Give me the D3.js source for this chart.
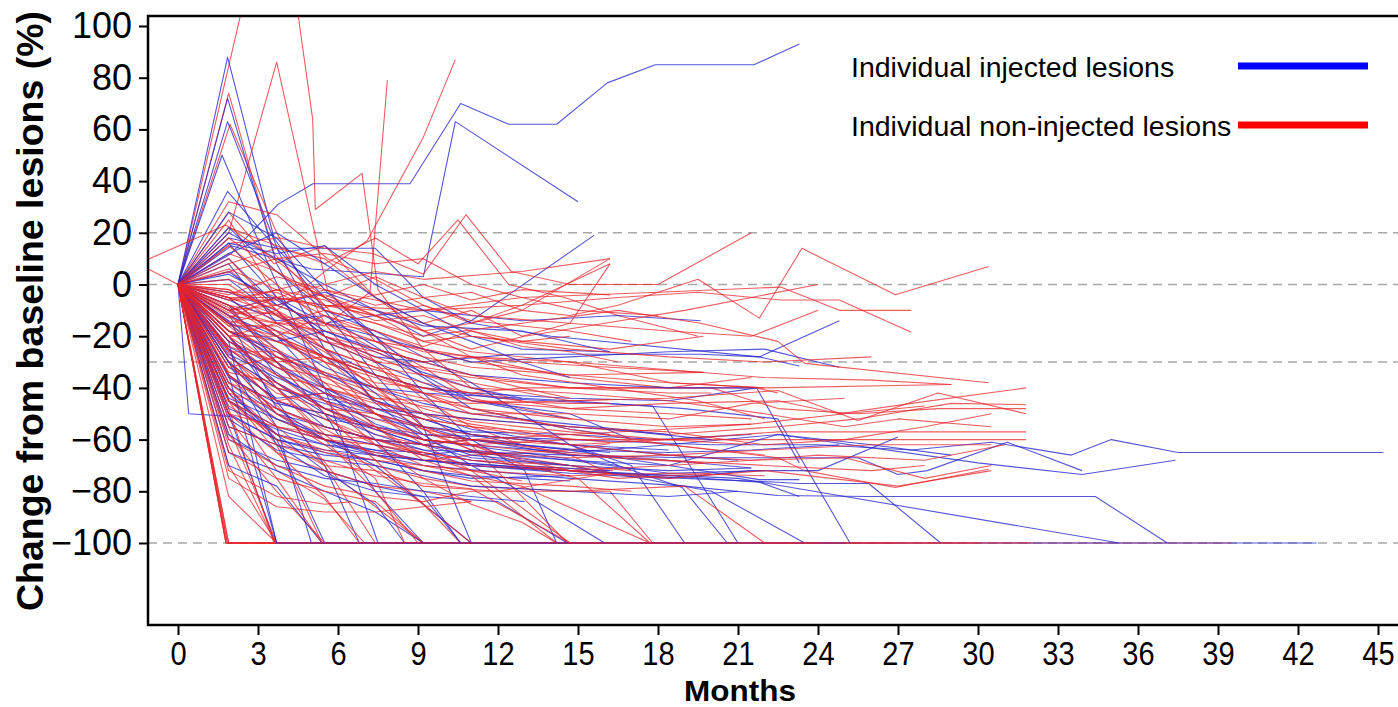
<!DOCTYPE html>
<html><head><meta charset="utf-8">
<script src="https://cdn.jsdelivr.net/npm/d3@7"></script>
<style>body{margin:0;background:#fff;} svg{display:block;}</style>
</head><body><svg id="c" width="1398" height="707"></svg>
<script>
// Each lesion: flat list of month, % change pairs
const injected = [
[0,0, 2,12, 3.75,31, 5.06,39, 8.7,39, 10.6,70, 12.4,62, 14.2,62, 16.1,78, 17.9,85, 21.6,85, 23.3,93],
[0,0, 2,15, 5,6, 9.2,3, 10.4,63, 15,32],
[0,0, 1.86,88, 3.6,18, 5.5,-10, 7.4,-35, 9.2,-55, 11,-100],
[0,0, 1.86,72, 3.7,8, 5.5,-25, 7.4,-45, 9.2,-52, 11,-58, 14.7,-62, 18.4,-64],
[0,0, 1.86,63, 3.8,12, 5.5,-20, 7.3,-45, 9.2,-60, 12.9,-65, 16.5,-70],
[0,0, 1.65,50, 3.5,5, 5.5,-40, 7.5,-100, 14,-100],
[0,0, 1.86,36, 3.6,15, 5.5,-5, 7.4,-20, 9.2,-35, 11,-45, 14.7,-52],
[0,0, 1.9,20, 3.7,10, 5.5,0, 7.4,-10, 9.2,-20, 11,-14, 15.6,19],
[0,0, 1.9,18, 3.7,14, 5.5,14, 7.4,14, 9.2,-5, 11,-15, 14,-20, 21.8,-28, 24.8,-14],
[0,0, 1.9,16, 3.7,-5, 5.5,-20, 7.4,-28, 9.2,-30, 12.6,-27, 19.6,-27, 21.8,-28, 23.3,-31.5],
[0,0, 1.9,10, 3.7,-8, 5.5,-15, 7.4,-12, 9.2,-10, 12.9,-14, 16.5,-12, 19.6,-14],
[0,0, 1.9,8, 3.7,-15, 5.5,-25, 7.4,-35, 9.2,-40, 11,-42, 14.7,-44, 18.4,-45, 21.7,-40, 23.3,-69],
[0,0, 0.4,-50, 2,-51, 3.7,-60, 5.5,-65, 7.4,-68, 9.2,-72, 11,-75, 14.7,-74],
[0,0, 1.9,-20, 3.7,-40, 5.5,-55, 7.4,-60, 9.2,-62, 11,-60, 14.7,-66, 18.4,-68, 21.5,-71],
[0,0, 1.9,-10, 3.7,-25, 5.5,-40, 7.4,-50, 9.2,-58, 11,-60, 14.7,-64, 18.4,-70, 21.8,-75.5, 23.3,-75.5],
[0,0, 1.9,-30, 3.7,-50, 5.5,-60, 7.4,-65, 9.2,-68, 11,-70, 14.7,-72, 18.4,-74, 21.8,-76.5, 23.3,-82],
[0,0, 1.9,-40, 3.7,-60, 5.5,-100, 20,-100],
[0,0, 1.9,-50, 3.65,-100, 12,-100],
[0,0, 1.9,-35, 3.7,-100],
[0,0, 1.9,-25, 3.7,-55, 5,-100, 8,-100],
[0,0, 1.9,-20, 3.7,-45, 5.5,-70, 6.8,-100],
[0,0, 1.9,-15, 3.7,-30, 5.5,-50, 7.4,-80, 9.2,-100],
[0,0, 1.9,-5, 3.7,-20, 5.5,-40, 7.4,-60, 9.2,-80, 10.6,-100],
[0,0, 1.9,-45, 3.7,-55, 5.5,-60, 7.4,-70, 9.2,-85, 11,-100, 42.7,-100],
[0,0, 1.9,-60, 3.7,-68, 5.5,-72, 7.4,-78, 9.2,-82, 12,-84, 14.6,-100],
[0,0, 1.9,-12, 3.7,-35, 5.5,-45, 7.4,-50, 9.2,-55, 11,-58, 14.7,-62, 16.5,-70, 18.9,-78.5, 20.6,-100],
[0,0, 1.9,-8, 3.7,-18, 5.5,-28, 7.4,-35, 9.2,-40, 12,-44, 17.8,-47, 21,-100],
[0,0, 1.9,-25, 3.7,-38, 5.5,-48, 7.4,-55, 9.2,-60, 11,-62, 14.7,-65, 18.4,-62, 22.5,-58, 30,-69, 33.9,-73.5, 37.4,-68],
[0,0, 1.9,-30, 3.7,-45, 5.5,-52, 7.4,-55, 9.2,-58, 14.7,-60, 20,-62, 24,-62, 27.5,-64, 30.5,-61, 33.5,-66, 35,-60, 37.5,-65, 45.2,-65],
[0,0, 1.9,-35, 3.7,-48, 5.5,-55, 7.4,-60, 9.2,-64, 14.7,-66, 19,-67, 22.5,-67, 25.5,-67, 27,-73.5, 28.1,-72, 31.1,-61, 33.9,-72],
[0,0, 1.9,-40, 3.7,-52, 5.5,-60, 9.2,-68, 14.7,-72, 19,-75, 22.5,-76.5, 23.3,-77, 25.9,-77, 28.6,-100],
[0,0, 1.9,-45, 3.7,-58, 5.5,-62, 9.2,-70, 14.7,-75, 19,-78, 22.5,-81.6, 25.9,-82, 34.4,-82, 37.1,-100],
[0,0, 1.9,-50, 3.7,-60, 5.5,-64, 9.2,-68, 14.7,-72, 21,-75, 35.3,-100],
[0,0, 1.9,-18, 3.7,-28, 5.5,-35, 7.4,-40, 9.2,-42, 14.7,-45, 19,-48, 22.5,-52, 25.2,-100],
[0,0, 1.9,-20, 3.7,-38, 5.5,-50, 9.2,-62, 14.7,-70, 20,-80, 23.5,-100],
[0,0, 1.9,2, 3.7,-12, 5.5,-22, 7.4,-30, 9.2,-38, 11,-45, 14.7,-50, 17,-60],
[0,0, 1.9,-22, 3.7,-32, 5.5,-40, 7.4,-48, 9.2,-52, 11,-58, 12.9,-62, 16.2,-65],
[0,0, 1.9,-28, 3.7,-40, 5.5,-46, 7.4,-52, 9.2,-55, 11,-57, 14.7,-58, 18,-60, 21.5,-58],
[0,0, 1.9,-32, 3.7,-44, 5.5,-42, 7.4,-48, 9.2,-50, 11,-56, 14.7,-62, 18.4,-66, 21,-68],
[0,0, 1.9,-55, 3.7,-62, 5.5,-66, 7.4,-68, 9.2,-72, 11,-74, 12.9,-75, 14.7,-76],
[0,0, 1.9,-65, 3.7,-72, 5.5,-80, 7.4,-88, 9.2,-100],
[0,0, 1.9,-70, 3.7,-78, 5.4,-100],
[0,0, 1.9,-10, 3.7,-5, 5.5,-15, 7.4,-20, 9.2,-25, 11,-30, 14.7,-28, 18.4,-26, 22,-25, 24.8,-32],
[0,0, 1.9,5, 3.7,-8, 5.5,-3, 7.4,-10, 9.2,-16, 12.9,-18, 16.2,-26],
[0,0, 1.9,-15, 3.7,-22, 5.5,-18, 7.4,-25, 9.2,-30, 11,-35, 14.7,-38, 18.4,-40, 21.7,-40],
[0,0, 1.9,-38, 3.7,-50, 5.5,-55, 7.4,-60, 9.2,-62, 11,-65, 14.7,-68, 18.4,-70, 22.5,-58, 26,-62, 29,-66],
[0,0, 1.9,-48, 3.7,-56, 5.5,-62, 7.4,-64, 9.2,-65, 11,-70, 14.7,-73, 18.4,-75, 21.5,-72, 24,-72, 27,-59],
[0,0, 1.9,22, 3.7,5, 5.5,-10, 7.4,-18, 9.2,-28, 11,-38, 12.9,-50, 14.7,-62, 17,-70, 19,-100],
[0,0, 1.9,28, 3.7,18, 5.5,-2, 7.4,-20, 9.2,-42, 11,-60, 13,-72, 14.2,-100],
[0,0, 1.9,16, 3.7,12, 5.5,15, 7.4,0, 9.2,-10, 11,-20, 12.9,-25, 16.2,-26],
[0,0, 1.9,-3, 3.7,-10, 5.5,-28, 7.4,-42, 9.2,-58, 11,-70, 12.5,-78, 16,-100],
[0,0, 1.9,-42, 3.7,-58, 5.5,-72, 7.4,-85, 8.5,-100],
[0,0, 1.9,-58, 3.7,-70, 5.5,-75, 7.4,-77, 9.2,-80, 11,-82, 13,-84],
[0,0, 1.9,12, 3.7,20, 5.5,8, 7.4,-5, 9.2,-15, 11,-22, 12.9,-30, 14.7,-36],
[0,0, 1.9,-18, 3.7,-26, 5.5,-34, 7.4,-45, 9.2,-50, 11,-52, 14.7,-55, 16.2,-56, 20,-60],
[0,0, 1.9,-8, 3.7,-30, 5.5,-42, 7.4,-54, 9.2,-60, 11,-66, 14.7,-70, 18.4,-72, 21.5,-71],
[0,0, 1.9,-27, 3.7,-36, 5.5,-44, 7.4,-48, 9.2,-55, 11,-60, 14.7,-64, 18.4,-65, 21.5,-64, 24.8,-62],
[0,0, 2,-15, 3.7,-48, 5.5,-60, 7.4,-66, 9.2,-68, 11,-70, 14,-72],
[0,0, 1.9,-22, 3.7,-100, 25,-100],
[0,0, 1.9,-24, 3.7,-34, 5.5,-48, 7.4,-56, 9.2,-62, 11,-67, 14.7,-70],
[0,0, 1.9,-36, 3.7,-46, 5.5,-50, 7.4,-58, 9.2,-64, 11,-68, 12.9,-70, 16.2,-72],
[0,0, 1.9,-12, 3.7,-20, 5.5,-32, 7.4,-40, 9.2,-46, 11,-50, 14.7,-54, 18.4,-58],
[0,0, 1.9,-52, 3.7,-64, 5.5,-68, 7.4,-70, 9.2,-74, 11,-78, 14.7,-80, 18.4,-82, 21,-80],
[0,0, 1.9,4, 3.7,-6, 5.5,-18, 7.4,-26, 9.2,-34, 11,-40, 12.9,-44],
[0,0, 1.9,-6, 3.7,-14, 5.5,-12, 7.4,-24, 9.2,-36, 11,-48, 14.7,-56, 16.2,-58],
[0,0, 1.9,-44, 3.7,-52, 5.5,-58, 7.4,-62, 9.2,-66, 11,-64, 14.7,-68, 18.4,-73, 22,-72],
[0,0, 1.9,-30, 3.7,-62, 5.5,-74, 7.4,-80, 9.2,-82, 10.6,-100]
];
const nonInjected = [
[0,0, 2.7,120, 4.4,112, 5.05,64, 5.15,29, 6.9,43, 7.5,-2, 9.2,-25, 11,-40, 12.9,-45],
[0,0, 1.9,74, 3.6,12, 5.5,-8, 7.4,-30, 9.2,-50, 11,-62, 14.6,-100],
[0,0, 1.95,62, 3.7,20, 5.5,-15, 7.5,-40, 9.5,-58, 12.5,-70, 16.3,-72],
[0,0, 1.9,20, 3.7,86, 5.6,-2, 7.4,-22, 9.2,-32, 11,-44, 14.8,-52],
[0,0, 1.9,-5, 3.8,-12, 5.5,-16, 7.2,-3, 7.85,79],
[0,0, 2,5, 3.7,-10, 5.5,5, 7.1,17, 9.2,57, 10.4,87],
[0,0, 1.9,32, 3.7,27, 5.6,10, 7.4,2, 9.2,-8, 11,-15, 12.9,-10, 16.2,10],
[0,0, 1.9,28, 3.6,8, 5.5,15, 7.4,-5, 9.2,-18, 11,-28, 14.7,-36, 18.4,-40, 21.5,-36],
[0,0, 1.9,25, 3.7,-5, 5.5,-20, 7.5,-30, 9.3,-45, 11,-55, 12.9,-62, 14.7,-66, 16.2,-73],
[0,0, 1.9,22, 3.7,15, 5.5,8, 7.4,18, 9,8, 10.5,25, 12.4,0, 14.5,-5, 16.5,-12, 19.5,-20],
[0,0, 2,16, 3.8,18, 5.5,14, 7.3,12, 9.2,4, 10.8,27, 12.5,5, 14.7,0, 18,0, 21.5,20],
[0,0, 1.9,12, 3.7,5, 5.5,-5, 7.4,3, 9.2,-5, 11,-3, 12.9,-10, 14.7,-12, 16.5,-8, 19.5,2, 21.8,-13, 23.4,14, 26.9,-4, 30.4,7],
[0,0, 1.9,8, 3.7,14, 5.5,10, 7.4,-5, 9.2,-15, 11,-10, 12.9,-20, 14.7,-15, 16.2,8],
[-1.5,8, 0,0, 1.9,-30, 3.7,-45, 5.5,-52, 7.4,-60, 9.2,-66],
[-1.5,8, 1.8,23, 3.6,10, 5.5,-5, 7.4,-12, 9.2,-22, 11,-26, 14.7,-30, 18.5,-38, 22,-40],
[0,0, 1.8,-100, 3.7,-100, 9.2,-100, 16.5,-100, 24,-100, 30.5,-100, 39.5,-100],
[0,0, 1.85,-100, 14,-100],
[0,0, 1.8,-100, 7.4,-100],
[0,0, 1.9,-100, 21,-100],
[0,0, 1.8,-100, 5.5,-100],
[0,0, 1.9,-100, 11,-100],
[0,0, 1.85,-100, 27,-100],
[0,0, 1.9,-82, 3.7,-100, 9.2,-100],
[0,0, 1.9,-70, 3.7,-100, 16,-100],
[0,0, 1.9,-62, 3.65,-100, 12.9,-100],
[0,0, 1.9,-55, 3.7,-100, 7.4,-100],
[0,0, 1.9,-48, 3.6,-100, 20,-100],
[0,0, 1.9,-58, 3.7,-80, 5.5,-100, 32,-100],
[0,0, 1.9,-45, 3.7,-72, 5.5,-83, 7,-100],
[0,0, 1.9,-40, 3.7,-62, 5.4,-100, 18,-100],
[0,0, 1.9,-35, 3.7,-55, 5.5,-70, 7.4,-100],
[0,0, 2.2,-30, 4,-50, 6,-75, 9.2,-100],
[0,0, 1.9,-28, 3.7,-40, 5.5,-58, 7.4,-72, 9.2,-85, 11,-100],
[0,0, 1.9,-25, 3.7,-38, 5.5,-52, 7.4,-62, 9.2,-70, 12.9,-78, 17.7,-100, 22,-100],
[0,0, 1.9,-22, 3.7,-30, 5.5,-45, 7.4,-55, 9.2,-68, 11,-74, 14.2,-100],
[0,0, 1.9,-5, 3.7,-5, 5.5,-8, 7.4,-10, 9.2,-15, 11,-20, 12.9,-22, 16.2,-25, 19.7,-20],
[0,0, 1.9,-10, 3.7,-15, 5.5,-15, 7.4,-18, 9.2,-25, 11,-30, 14.7,-35, 19.7,-34],
[0,0, 1.9,-12, 3.7,-22, 5.5,-28, 7.4,-35, 9.2,-40, 11,-42, 12.9,-40, 16.5,-40, 21.7,-40, 22.5,-42],
[0,0, 1.9,-15, 3.7,-20, 5.5,-30, 7.4,-38, 9.2,-40, 11,-45, 14.7,-48, 18.4,-46, 22.5,-45, 24.8,-50, 27.5,-46, 31.8,-40],
[0,0, 1.9,-18, 3.7,-25, 5.5,-35, 7.4,-42, 9.2,-50, 11,-52, 14.7,-55, 18.4,-58, 22.5,-55, 25.5,-52, 29,-46, 31.8,-46.5],
[0,0, 1.9,-20, 3.7,-32, 5.5,-42, 7.4,-50, 9.2,-56, 11,-60, 14.7,-62, 18.4,-60, 22.5,-57, 27,-57, 31.8,-57],
[0,0, 1.9,-30, 3.7,-45, 5.5,-50, 7.4,-55, 9.2,-60, 11,-62, 14.7,-60, 18.4,-60, 22.5,-60, 31.8,-60],
[0,0, 1.9,-8, 3.7,-12, 5.5,-20, 7.4,-28, 9.2,-35, 11,-38, 14.7,-45, 18.4,-44, 22.5,-41, 25.5,-52.6, 28.5,-42, 31.8,-50],
[0,0, 1.9,-14, 3.7,-18, 5.5,-22, 7.4,-30, 9.2,-32, 11,-35, 14.7,-40, 20,-40, 22.5,-48, 25.5,-50, 28.5,-48, 31.8,-48],
[0,0, 1.9,-25, 3.7,-35, 5.5,-40, 7.4,-45, 9.2,-52, 11,-55, 14.7,-58, 18.4,-62, 22.5,-67, 23.5,-72, 26.9,-78.5, 30.4,-71.5],
[0,0, 1.9,-6, 3.7,-2, 5.5,-10, 7.4,-15, 9.2,-20, 12.9,-15, 16.5,-10, 19.6,-15, 22.5,-22, 23.5,-30.5, 30.4,-38],
[0,0, 1.9,-3, 3.7,-8, 5.5,-2, 7.4,-6, 9.2,-10, 12.9,-8, 16.5,-5, 19.5,-3, 22.6,-6, 24.8,-6, 27.5,-18.5],
[0,0, 1.9,2, 3.7,-5, 5.5,-8, 9.2,-10, 12.9,-5, 18,-3, 22.6,-1, 24.8,-10, 27.5,-10],
[0,0, 1.9,-12, 3.7,-15, 5.5,-18, 7.4,-22, 11,-28, 14.7,-30, 18.4,-33, 22,-36, 26,-37, 29,-38.7],
[0,0, 1.9,-35, 3.7,-50, 5.5,-58, 7.4,-62, 9.2,-65, 11,-68, 14.7,-70, 16.2,-73],
[0,0, 1.9,-40, 3.7,-58, 5.5,-65, 7.4,-70, 9.2,-75, 11,-78, 14.7,-80, 16.2,-80, 17.8,-100],
[0,0, 1.9,-45, 3.7,-60, 5.5,-70, 7.4,-72, 9.2,-78, 12,-80, 16.2,-73],
[0,0, 1.9,-50, 3.7,-65, 5.5,-72, 7.4,-78, 9.2,-80, 11,-84],
[0,0, 1.9,-38, 3.7,-52, 5.5,-60, 7.4,-65, 9.2,-68, 11,-66, 14.7,-64, 16.2,-61.5],
[0,0, 1.9,-15, 3.7,-28, 5.5,-38, 7.4,-44, 9.2,-45, 11,-46, 14.7,-45, 16.2,-44.5],
[0,0, 1.9,-18, 3.7,-22, 5.5,-30, 7.4,-36, 9.2,-42, 11,-45, 14.7,-46, 16.2,-46],
[0,0, 1.9,-10, 3.7,-5, 5.5,0, 7.4,5, 9.2,2, 12.9,5, 16.2,10],
[0,0, 1.9,-28, 3.7,-42, 5.5,-48, 7.4,-50, 9.2,-55, 11,-58, 14.7,-62, 18.4,-66, 21.5,-68, 24,-66, 28,-68, 31,-62],
[0,0, 1.9,-32, 3.7,-40, 5.5,-45, 7.4,-52, 9.2,-58, 11,-60, 14.7,-65, 18.4,-68, 22,-70, 26,-72, 28,-70],
[0,0, 1.9,-22, 3.7,-35, 5.5,-48, 7.4,-58, 9.2,-62, 11,-60, 14.7,-58, 18.4,-56, 21.5,-54],
[0,0, 1.9,-5, 3.7,-20, 5.5,-28, 7.4,-33, 9.2,-38, 11,-42, 14.7,-48, 18.4,-50, 21.5,-52],
[0,0, 1.9,-2, 3.7,-10, 5.5,-25, 7.4,-40, 9.2,-55, 11,-62, 12.9,-68, 14.7,-72, 16.5,-75, 20,-73],
[0,0, 1.9,-8, 3.7,-18, 5.5,-35, 7.4,-50, 9.2,-62, 11,-72, 14.7,-100],
[0,0, 1.9,-16, 3.7,-30, 5.5,-50, 7.4,-68, 9.2,-85, 10.6,-100],
[0,0, 1.9,-20, 3.7,-40, 5.5,-60, 7.4,-80, 9,-100],
[0,0, 1.9,-12, 3.7,-25, 5.5,-45, 7.4,-62, 9.2,-75, 11,-85, 12.9,-92, 14.2,-100],
[0,0, 1.9,-30, 3.7,-50, 5.5,-62, 7.4,-75, 8.5,-100],
[0,0, 1.9,-42, 3.7,-65, 5.5,-82, 6.8,-100],
[0,0, 1.9,-52, 3.7,-75, 5.4,-100],
[0,0, 1.9,10, 3.7,-10, 5.5,-30, 7.4,-50, 9.2,-60, 11,-62, 13,-70, 15,-75, 17.7,-100],
[0,0, 1.9,15, 3.7,0, 5.5,-15, 7.4,-25, 9.2,-30, 11,-28, 12.9,-35, 16.2,-40, 19.5,-45, 22,-52],
[0,0, 1.9,18, 3.7,5, 5.5,-8, 7.4,-12, 9.2,-18, 11,-15, 12.9,-8, 16.2,8],
[0,0, 1.9,-4, 3.7,3, 5.5,-2, 7.4,-8, 9.2,-5, 11,-12, 14.7,-15, 18.4,-18, 21.5,-20, 24,-10],
[0,0, 1.9,-2, 3.7,-15, 5.5,-10, 7.4,-15, 9.2,-22, 11,-20, 14.7,-25, 18.4,-28, 22,-30, 26,-28],
[0,0, 1.9,-24, 3.7,-30, 5.5,-28, 7.4,-35, 9.2,-42, 11,-50, 14.7,-55, 18.4,-57, 22,-62, 25,-60, 28,-55, 30.5,-50],
[0,0, 1.9,-35, 3.7,-48, 5.5,-55, 7.4,-60, 9.2,-65, 11,-68, 14.7,-72, 18.4,-75, 22,-72, 27,-78, 30.5,-72],
[0,0, 1.9,-60, 3.7,-70, 5.5,-78, 7.4,-82, 9.2,-84, 11,-80, 14.7,-80, 19,-78, 22,-100, 30,-100],
[0,0, 1.9,-65, 3.7,-75, 5.5,-80, 7.4,-84, 9.2,-100],
[0,0, 1.9,-72, 3.7,-82, 5.5,-85, 6.5,-84],
[0,0, 1.9,-75, 3.7,-86, 5.5,-88, 7.4,-88, 9.2,-86, 11,-84],
[0,0, 1.9,-38, 3.7,-45, 5.5,-42, 7.4,-48, 9.2,-52, 11,-55, 12.9,-58, 16.2,-61],
[0,0, 1.9,-10, 3.7,-8, 5.5,-15, 7.4,-22, 9.2,-28, 11,-32, 14.7,-35, 18.4,-38, 22,-40, 29,-38.7],
[0,0, 1.9,-45, 3.7,-55, 5.5,-60, 7.4,-62, 9.2,-66, 11,-70, 14.7,-72, 18.4,-70, 21.5,-68, 25,-67, 28,-75, 30.5,-70],
[0,0, 1.9,5, 3.7,10, 5.5,12, 7.4,8, 9.2,10, 11,0, 12.9,-5, 15,-10, 18,-12],
[0,0, 1.9,-15, 3.7,-10, 5.5,-20, 7.4,-25, 9.2,-30, 11,-35, 12.9,-40, 14.7,-44],
[0,0, 1.9,-20, 3.7,-15, 5.5,-25, 7.4,-32, 9.2,-35, 11,-40, 14.7,-42, 18.4,-45, 22,-50, 25,-55, 27,-52, 30.5,-55],
[0,0, 1.9,-50, 3.7,-55, 5.5,-58, 7.4,-60, 9.2,-62, 11,-65, 14.7,-67, 18.4,-66, 22,-64, 26,-62, 30.5,-62],
[0,0, 1.9,-32, 3.7,-28, 5.5,-34, 7.4,-40, 9.2,-44, 11,-48, 14.7,-52, 18.4,-55, 21.5,-54, 25,-50, 28,-47],
[0,0, 1.9,-8, 3.7,-20, 5.5,-12, 7.4,-20, 9.2,-26, 12.9,-30, 16.2,-32, 19.7,-34],
[0,0, 2.2,-6, 4.5,0, 6.5,-10, 8.5,-15, 11,-25, 13,-20, 16,-15, 19,-10, 21.5,-5, 24,0],
[0,0, 1.9,-3, 3.7,-3, 5.5,-12, 7.4,-18, 9.2,-24, 11,-18, 12.9,-22, 14.7,-20],
[0,0, 1.9,-6, 3.7,-6, 5.5,-4, 7.4,-12, 9.2,-8, 11,-14, 14.7,-18, 17,-22],
[0,0, 1.9,-11, 3.7,-11, 5.5,-22, 7.4,-26, 9.2,-33, 11,-36, 14.7,-40, 18.4,-42, 20,-42],
[0,0, 1.9,-16, 3.7,-16, 5.5,-26, 7.4,-40, 9.2,-48, 11,-53, 14.7,-57, 18.4,-60, 21.5,-62],
[0,0, 1.9,-20, 3.7,-20, 5.5,-28, 7.4,-45, 9.2,-56, 11,-64, 14.7,-70, 17,-72],
[0,0, 1.9,-26, 3.7,-26, 5.5,-38, 7.4,-55, 9.2,-66, 11,-72, 12.9,-76],
[0,0, 1.9,-42, 3.7,-48, 5.5,-56, 7.4,-66, 9.2,-72, 11,-76, 14.7,-78, 17,-80],
[0,0, 1.9,-55, 3.7,-62, 5.5,-68, 7.4,-74, 9.2,-77, 11,-79, 14.7,-100, 24,-100],
[0,0, 1.9,0, 3.7,-12, 5.5,-25, 7.4,-32, 9.2,-42, 11,-48, 14.7,-56, 18.4,-62, 22,-66],
[0,0, 1.9,-9, 3.7,-28, 5.5,-40, 7.4,-46, 9.2,-50, 11,-54, 12.9,-57, 14.7,-60],
[0,0, 1.9,-34, 3.7,-38, 5.5,-48, 7.4,-56, 9.2,-60, 12.9,-64, 16.2,-67, 19.7,-69],
[0,0, 1.9,6, 3.7,-2, 5.5,-6, 7.4,-14, 9.2,-12, 11,-18, 12.9,-24, 14.7,-26, 16.5,-30],
[0,0, 1.9,-13, 3.7,-5, 5.5,-9, 7.4,-4, 9.2,0, 11,-6, 12.9,-2, 16.2,-4],
[0,0, 1.9,-47, 3.7,-58, 5.5,-64, 7.4,-68, 9.2,-70, 11,-72, 14.7,-74, 18.4,-73, 22,-74],
[0,0, 1.9,-18, 3.7,-32, 5.5,-36, 7.4,-44, 9.2,-47, 11,-50, 14.7,-50, 18.4,-52, 21.5,-46, 25,-44]
];
const xTickValues = [0,3,6,9,12,15,18,21,24,27,30,33,36,39,42,45];
const yTickValues = [100,80,60,40,20,0,-20,-40,-60,-80,-100];
const refLineValues = [20,0,-30,-100];
const legendLabels = ["Individual injected lesions","Individual non-injected lesions"];
const seriesColors = ["#0000ff","#ff0000"];

const L = 148, T = 16, R = 1398, B = 625;
const svg = d3.select("#c");

const x = d3.scaleLinear().domain([0,45]).range([178,1378]);
const y = d3.scaleLinear().domain([100,-100]).range([26,543]);

svg.append("defs").append("clipPath").attr("id","clip")
  .append("rect").attr("x",L).attr("y",T).attr("width",R-L).attr("height",B-T);

// reference dashed lines
svg.append("g").selectAll("line").data(refLineValues).join("line")
  .attr("x1",L).attr("x2",R).attr("y1",d=>y(d)).attr("y2",d=>y(d))
  .attr("stroke","#a8a8a8").attr("stroke-width",1.5).attr("stroke-dasharray","9,6");

const toPairs = a => { const p=[]; for(let i=0;i<a.length;i+=2) p.push([a[i],a[i+1]]); return p; };
const line = d3.line().x(d=>x(d[0])).y(d=>y(d[1]));

const g = svg.append("g").attr("clip-path","url(#clip)");
const all = [];
const n = Math.max(injected.length, nonInjected.length);
for (let i=0;i<n;i++){
  if (i<nonInjected.length) all.push({k:1, d:toPairs(nonInjected[i])});
  if (i<injected.length) all.push({k:0, d:toPairs(injected[i])});
}
g.selectAll("path").data(all).join("path")
  .attr("d",d=>line(d.d)).attr("fill","none")
  .attr("stroke",d=>d.k===0?"#2b2bd0":"#e8262b")
  .attr("stroke-opacity",d=>d.k===0?0.8:0.75)
  .attr("stroke-width",1.1).attr("stroke-linejoin","round");

// frame: left, top, bottom
svg.append("path").attr("d",`M${R},${T}H${L}V${B}H${R}`)
  .attr("stroke","#000").attr("stroke-width",2.5).attr("fill","none");

// y axis ticks & labels
const yAxis = d3.axisLeft(y).tickValues(yTickValues).tickSize(9).tickPadding(7);
const ya = svg.append("g").attr("transform",`translate(${L},0)`).call(yAxis);
ya.select(".domain").remove();
ya.selectAll(".tick line").attr("stroke","#000").attr("stroke-width",2);
ya.selectAll(".tick text").attr("font-family","Liberation Sans, Arial, sans-serif")
  .attr("font-size",36).attr("fill","#000");

// x axis
const xAxis = d3.axisBottom(x).tickValues(xTickValues).tickSize(10).tickPadding(7);
const xa = svg.append("g").attr("transform",`translate(0,${B})`).call(xAxis);
xa.select(".domain").remove();
xa.selectAll(".tick line").attr("stroke","#000").attr("stroke-width",2);
xa.selectAll(".tick text").attr("font-family","Liberation Sans, Arial, sans-serif")
  .attr("font-size",33).attr("fill","#000").attr("transform","scale(0.88,1)");

// axis titles
svg.append("text").attr("transform","translate(740,700.5) scale(1.05,1)").attr("text-anchor","middle")
  .attr("font-family","Liberation Sans, Arial, sans-serif")
  .attr("font-weight","bold").attr("font-size",30).text("Months");
svg.append("text").attr("transform","translate(43,311) rotate(-90)").attr("text-anchor","middle")
  .attr("font-family","Liberation Sans, Arial, sans-serif")
  .attr("font-weight","bold").attr("font-size",37.5).text("Change from baseline lesions (%)");

// legend
const legY = [66,125];
legendLabels.forEach((t,i)=>{
  svg.append("text").attr("x",851).attr("y",legY[i]+11)
    .attr("font-family","Liberation Sans, Arial, sans-serif").attr("font-size",28.5).text(t);
  svg.append("line").attr("x1",1238).attr("x2",1368).attr("y1",legY[i]).attr("y2",legY[i])
    .attr("stroke",seriesColors[i]).attr("stroke-width",7);
});
</script>
</body></html>
